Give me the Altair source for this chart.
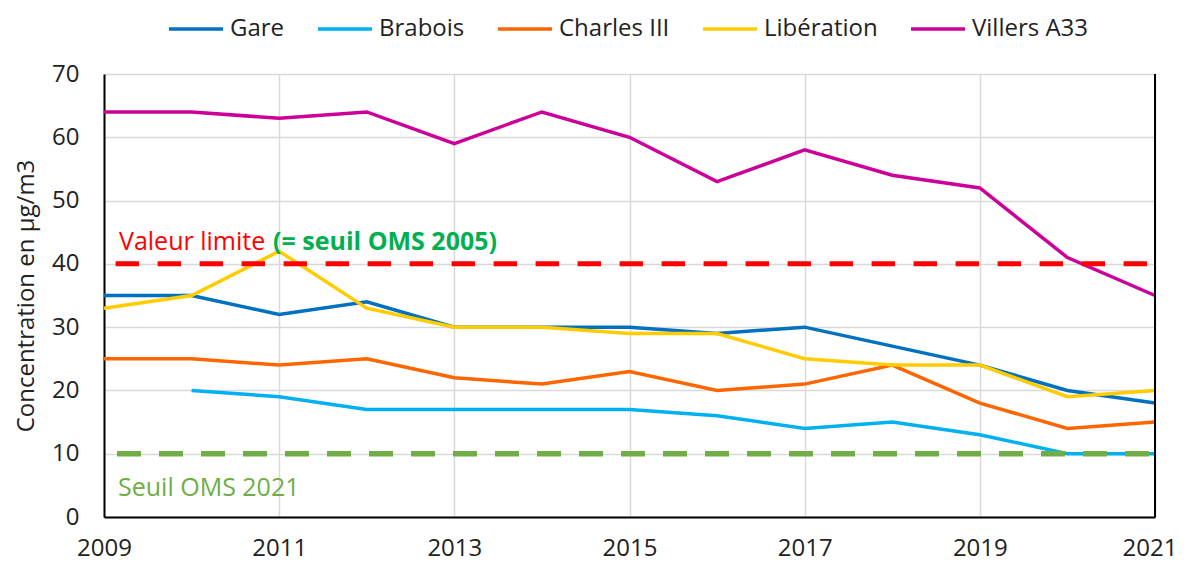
import altair as alt
import pandas as pd

years = list(range(2009, 2022))
gare = [35, 35, 32, 34, 30, 30, 30, 29, 30, 27, 24, 20, 18]
brabois = [None, 20, 19, 17, 17, 17, 17, 16, 14, 15, 13, 10, 10]
charles = [25, 25, 24, 25, 22, 21, 23, 20, 21, 24, 18, 14, 15]
liberation = [33, 35, 42, 33, 30, 30, 29, 29, 25, 24, 24, 19, 20]
villers = [64, 64, 63, 64, 59, 64, 60, 53, 58, 54, 52, 41, 35]

series_names = ["Gare", "Brabois", "Charles III", "Libération", "Villers A33"]
series_colors = ["#0070C0", "#00B0F0", "#FF6600", "#FFCC00", "#CC0099"]
x_ticks = [2009, 2011, 2013, 2015, 2017, 2019, 2021]
y_ticks = [0, 10, 20, 30, 40, 50, 60, 70]

limit_value = 40
oms2021_value = 10

FONT = "Open Sans"
TXT = "#222222"

rows = []
for name, vals in zip(series_names, [gare, brabois, charles, liberation, villers]):
    for yr, v in zip(years, vals):
        if v is not None:
            rows.append({"year": yr, "value": v, "station": name})
df = pd.DataFrame(rows)

xscale = alt.Scale(domain=[years[0], years[-1]], nice=False, zero=False)
yscale = alt.Scale(domain=[0, 70], nice=False)

last_year = years[-1]

lines = alt.Chart(df).mark_line(strokeWidth=3.5).encode(
    x=alt.X("year:Q", scale=xscale,
            axis=alt.Axis(values=x_ticks, format="d", title=None, tickSize=0,
                          labelFontSize=24, labelFont=FONT, labelColor=TXT,
                          labelPadding=19, labelFlush=False, labelOverlap=False,
                          labelAlign={"expr": f"datum.value == {last_year} ? 'right' : 'center'"},
                          labelOffset={"expr": f"datum.value == {last_year} ? 22 : 0"},
                          domainColor="black", domainWidth=2,
                          gridColor="#D9D9D9", gridWidth=1.5)),
    y=alt.Y("value:Q", scale=yscale,
            axis=alt.Axis(values=y_ticks, title="Concentration en µg/m3", tickSize=0,
                          labelFontSize=24, labelFont=FONT, labelColor=TXT,
                          labelPadding=25, titleFont=FONT, titleFontSize=24,
                          titleFontWeight="normal", titleColor=TXT, titlePadding=13,
                          domainColor="black", domainWidth=2,
                          gridColor="#D9D9D9", gridWidth=1.5)),
    color=alt.Color("station:N",
                    scale=alt.Scale(domain=series_names, range=series_colors),
                    sort=series_names,
                    legend=alt.Legend(title=None, orient="none", direction="horizontal",
                                      legendX=63, legendY=-74, padding=0,
                                      symbolType="stroke", symbolSize=2916,
                                      symbolStrokeWidth=3.5, labelOffset=5,
                                      columnPadding=26, labelFont=FONT,
                                      labelFontSize=24, labelColor=TXT)),
    order=alt.Order("year:Q"),
)

ref_df = pd.DataFrame({
    "y": [limit_value, oms2021_value],
    "x0": [years[0], years[0]],
    "x1": [years[-1], years[-1]],
    "kind": ["limite", "oms2021"],
})

red_rule = alt.Chart(ref_df[ref_df.kind == "limite"]).mark_rule(
    color="#FF0000", strokeWidth=5, strokeDash=[23.4, 18.6], strokeDashOffset=34
).encode(x="x1:Q", x2="x0:Q", y="y:Q")

green_rule = alt.Chart(ref_df[ref_df.kind == "oms2021"]).mark_rule(
    color="#70AD47", strokeWidth=5.5, strokeDash=[24, 18], strokeDashOffset=36
).encode(x="x1:Q", x2="x0:Q", y="y:Q")

border_df = pd.DataFrame({"x": [years[-1]], "y0": [0], "y1": [70]})
border = alt.Chart(border_df).mark_rule(color="black", strokeWidth=2).encode(
    x="x:Q", y="y0:Q", y2="y1:Q")

ann_df = pd.DataFrame({"x": [years[0]], "y40": [limit_value], "y10": [oms2021_value]})

t_red = alt.Chart(ann_df).mark_text(
    text="Valeur limite", color="#FF0000", font=FONT, fontSize=25,
    align="left", baseline="alphabetic", dx=15, dy=-14
).encode(x="x:Q", y="y40:Q")

t_green_bold = alt.Chart(ann_df).mark_text(
    text="(= seuil OMS 2005)", color="#00B050", font=FONT, fontSize=25,
    fontWeight="bold", align="left", baseline="alphabetic", dx=169, dy=-14
).encode(x="x:Q", y="y40:Q")

t_oms = alt.Chart(ann_df).mark_text(
    text="Seuil OMS 2021", color="#70AD47", font=FONT, fontSize=25,
    align="left", baseline="alphabetic", dx=14, dy=42
).encode(x="x:Q", y="y10:Q")

chart = alt.layer(
    lines, red_rule, green_rule, border, t_red, t_green_bold, t_oms
).properties(
    width=1051, height=443,
    autosize=alt.AutoSizeParams(type="none"),
    padding={"left": 96, "top": 66, "right": 23, "bottom": 48},
).configure_view(strokeWidth=0).configure(background="white")

chart.save("out.html", embed_options={"renderer": "svg", "actions": False})
